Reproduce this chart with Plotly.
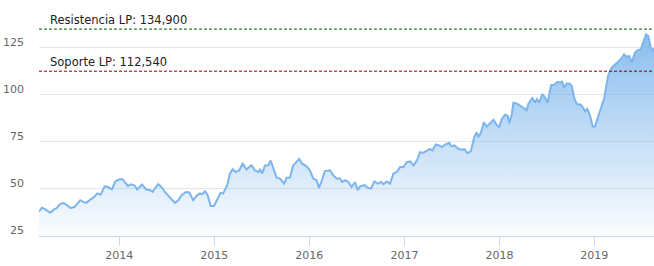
import numpy as np
import pandas as pd
import plotly.graph_objects as go

# Decimal-year positions of the readings and the series values
years = [
    2013.155, 2013.186, 2013.221, 2013.274, 2013.313, 2013.337, 2013.373, 2013.407, 2013.442, 2013.488,
    2013.531, 2013.558, 2013.589, 2013.625, 2013.653, 2013.699, 2013.734, 2013.768, 2013.804, 2013.846,
    2013.881, 2013.923, 2013.958, 2013.997, 2014.032, 2014.063, 2014.092, 2014.126, 2014.162, 2014.189,
    2014.239, 2014.284, 2014.323, 2014.352, 2014.376, 2014.411, 2014.446, 2014.481, 2014.534, 2014.586,
    2014.621, 2014.657, 2014.702, 2014.737, 2014.779, 2014.821, 2014.849, 2014.878, 2014.902, 2014.931,
    2014.962, 2014.997, 2015.032, 2015.067, 2015.095, 2015.137, 2015.165, 2015.194, 2015.228, 2015.263,
    2015.299, 2015.341, 2015.376, 2015.394, 2015.428, 2015.463, 2015.481, 2015.505, 2015.534, 2015.568,
    2015.594, 2015.621, 2015.657, 2015.692, 2015.737, 2015.762, 2015.797, 2015.832, 2015.867, 2015.895,
    2015.926, 2015.973, 2016.007, 2016.042, 2016.078, 2016.102, 2016.131, 2016.165, 2016.218, 2016.253,
    2016.288, 2016.323, 2016.347, 2016.376, 2016.411, 2016.446, 2016.481, 2016.509, 2016.534, 2016.579,
    2016.615, 2016.649, 2016.684, 2016.720, 2016.755, 2016.779, 2016.815, 2016.849, 2016.884, 2016.920,
    2016.955, 2016.989, 2017.025, 2017.060, 2017.095, 2017.131, 2017.165, 2017.200, 2017.236, 2017.271,
    2017.295, 2017.331, 2017.366, 2017.394, 2017.428, 2017.471, 2017.492, 2017.526, 2017.568, 2017.604,
    2017.632, 2017.663, 2017.699, 2017.737, 2017.762, 2017.779, 2017.807, 2017.836, 2017.867, 2017.902,
    2017.937, 2017.965, 2017.997, 2018.025, 2018.060, 2018.088, 2018.105, 2018.131, 2018.147, 2018.183,
    2018.218, 2018.253, 2018.288, 2018.305, 2018.347, 2018.376, 2018.394, 2018.418, 2018.453, 2018.481,
    2018.509, 2018.544, 2018.579, 2018.611, 2018.639, 2018.660, 2018.681, 2018.709, 2018.737, 2018.762,
    2018.786, 2018.815, 2018.857, 2018.884, 2018.902, 2018.926, 2018.955, 2018.983, 2019.007, 2019.042,
    2019.078, 2019.105, 2019.123, 2019.147, 2019.183, 2019.218, 2019.246, 2019.278, 2019.313, 2019.341,
    2019.368, 2019.394, 2019.428, 2019.453, 2019.488, 2019.516, 2019.544, 2019.568, 2019.594, 2019.615,
    2019.628,
]
values = [
    38.0, 40.0, 39.1, 37.3, 39.1, 39.6, 41.7, 42.6, 41.7, 39.8,
    40.5, 41.9, 44.0, 43.0, 42.6, 44.5, 45.6, 47.6, 47.0, 51.4,
    51.0, 49.8, 54.0, 55.0, 55.3, 53.4, 51.6, 52.5, 51.8, 49.7,
    52.3, 49.7, 49.3, 48.4, 50.5, 52.5, 51.0, 48.4, 45.4, 42.6,
    44.0, 46.7, 48.4, 48.1, 44.0, 46.7, 47.6, 47.2, 48.8, 46.7,
    41.0, 41.0, 44.4, 47.9, 47.6, 52.0, 58.1, 60.4, 59.0, 59.9,
    63.4, 60.3, 62.0, 62.5, 59.9, 59.0, 60.3, 58.2, 62.5, 62.5,
    65.1, 61.6, 56.0, 55.5, 52.8, 56.0, 56.0, 62.5, 64.2, 66.0,
    63.4, 62.0, 59.9, 55.5, 54.6, 50.5, 54.2, 59.5, 59.9, 57.2,
    55.5, 55.5, 53.7, 54.6, 53.7, 51.0, 53.7, 49.3, 51.4, 52.0,
    50.7, 50.2, 54.0, 52.8, 53.7, 52.5, 54.0, 52.8, 58.1, 59.0,
    61.6, 61.6, 64.2, 64.6, 62.5, 65.1, 69.5, 69.2, 70.4, 71.3,
    70.4, 73.6, 73.1, 72.2, 73.6, 74.5, 72.7, 73.1, 71.3, 70.8,
    71.1, 69.0, 70.0, 77.8, 80.1, 77.4, 80.1, 85.4, 83.1, 84.9,
    86.7, 84.6, 82.7, 87.2, 89.4, 88.9, 84.9, 89.8, 95.7, 95.4,
    94.2, 92.8, 91.9, 95.1, 98.3, 95.9, 97.7, 95.9, 100.4, 98.6,
    95.9, 105.1, 105.3, 106.9, 106.5, 107.0, 103.9, 106.0, 106.0, 104.8,
    98.6, 95.1, 94.7, 93.0, 91.2, 92.5, 88.9, 83.1, 83.1, 88.9,
    94.2, 98.3, 103.9, 110.6, 114.4, 115.9, 117.1, 118.9, 121.5, 120.1,
    120.6, 117.1, 122.4, 123.6, 124.2, 127.7, 132.1, 131.2, 125.0, 122.9,
    125.0,
]

resistance = 134.9
support = 112.54
resistance_label = "Resistencia LP: 134,900"
support_label = "Soporte LP: 112,540"

y_ticks = [25, 50, 75, 100, 125]
x_tick_years = [2014, 2015, 2016, 2017, 2018, 2019]
x_range_years = [2013.155, 2019.628]


def to_date(t):
    y = int(np.floor(t))
    start = pd.Timestamp(year=y, month=1, day=1)
    end = pd.Timestamp(year=y + 1, month=1, day=1)
    return start + (end - start) * (t - y)


dates = [to_date(t) for t in years]
x_range = [to_date(t) for t in x_range_years]

FONT = "DejaVu Sans"
fig = go.Figure()

fig.add_trace(go.Scatter(
    x=dates, y=values, mode="lines",
    line=dict(color="#7cb5ec", width=2),
    fill="tozeroy",
    fillgradient=dict(
        type="vertical",
        colorscale=[[0, "rgba(124,181,236,0.03)"], [1, "rgba(124,181,236,0.95)"]],
        start=25, stop=140,
    ),
    hoverinfo="skip",
))

for val, col in [(resistance, "#005a00"), (support, "#800000")]:
    fig.add_shape(type="line", xref="paper", x0=0, x1=1, yref="y", y0=val, y1=val,
                  line=dict(color=col, width=1, dash="3px,2px"))

for val, txt in [(resistance, resistance_label), (support, support_label)]:
    fig.add_annotation(xref="paper", x=0, xanchor="left", xshift=9,
                       yref="y", y=val, yanchor="bottom", yshift=0,
                       text=txt, showarrow=False,
                       font=dict(family=FONT, size=11.5, color="#222222"))

fig.update_layout(
    width=654, height=266,
    margin=dict(l=39, r=0, t=5, b=30),
    paper_bgcolor="white", plot_bgcolor="white",
    showlegend=False,
)
fig.update_xaxes(
    type="date", range=x_range,
    tickvals=[to_date(y) for y in x_tick_years],
    ticktext=[str(y) for y in x_tick_years],
    showgrid=False, zeroline=False,
    showline=True, linecolor="#ccd6eb", linewidth=1,
    ticks="outside", ticklen=9, tickcolor="#ccd6eb",
    tickfont=dict(family=FONT, size=11, color="#666666"),
)
fig.update_yaxes(
    range=[25, 147.7],
    tickvals=y_ticks,
    showgrid=True, gridcolor="#e6e6e6", gridwidth=1,
    zeroline=False, showline=False, ticks="",
    ticklabelshift=-6, ticklabelstandoff=14,
    tickfont=dict(family=FONT, size=11, color="#666666"),
)

fig.write_html("out.html")
